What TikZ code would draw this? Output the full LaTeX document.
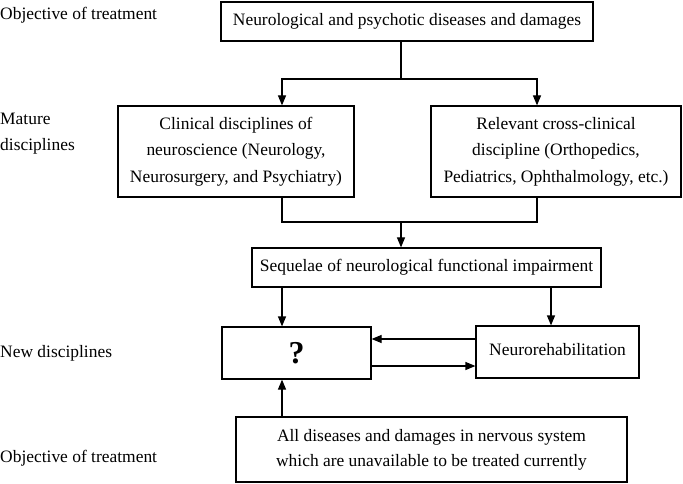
\documentclass[tikz,border=0pt]{standalone}
\usepackage{fontspec}
\setmainfont{Liberation Serif}
\usetikzlibrary{arrows.meta}
\begin{document}
\begin{tikzpicture}[x=1bp,y=-1bp,
  box/.style={draw, line width=1.2bp, inner sep=0pt, align=center, font=\fontsize{17.5}{26.5}\selectfont},
  lab/.style={anchor=west, align=left, inner sep=0pt, font=\fontsize{17.5}{26}\selectfont},
  ln/.style={line width=1.2bp},
  arr/.style={line width=1.2bp, -{Triangle[length=10bp,width=8bp]}}]
\useasboundingbox (0,0) rectangle (683,484);
% side labels
\node[lab] (l1) at (0,15) {Objective of treatment};
\node[lab] (l2) at (0,134) {Mature\\disciplines};
\node[lab] (l3) at (0,353) {New disciplines};
\node[lab] (l4) at (0,458) {Objective of treatment};
% boxes
\node[box, minimum width=372bp, minimum height=39bp] (top) at (407,21.5) {Neurological and psychotic diseases and damages};
\node[box, minimum width=236bp, minimum height=91bp] (left) at (236,151.5) {Clinical disciplines of\\neuroscience (Neurology,\\Neurosurgery, and Psychiatry)};
\node[box, minimum width=250bp, minimum height=91bp] (right) at (556,151.5) {Relevant cross-clinical\\discipline (Orthopedics,\\Pediatrics, Ophthalmology, etc.)};
\node[box, minimum width=349bp, minimum height=39bp] (seq) at (426.5,267.5) {Sequelae of neurological functional impairment};
\node[box, minimum width=149bp, minimum height=52bp, font=\fontsize{32}{32}\selectfont\bfseries] (q) at (296.5,353) {?};
\node[box, minimum width=163bp, minimum height=52bp] (neuro) at (557.5,352) {\raisebox{5bp}{Neurorehabilitation}};
\node[box, minimum width=391bp, minimum height=65bp, font=\fontsize{17.5}{25}\selectfont] (bot) at (431.5,449.5) {All diseases and damages in nervous system\\which are unavailable to be treated currently};
% helper coordinates
\coordinate (xL) at (282,0);
\coordinate (xR) at (537,0);
\coordinate (xN) at (551,0);
\coordinate (j1) at (401,79);
\coordinate (j2) at (401,222);
\coordinate (yA) at (0,339);
\coordinate (yB) at (0,366);
% connectors
\draw[ln] (top.south -| j1) -- (j1);
\draw[arr] (j1) -| (left.north -| xL);
\draw[arr] (j1) -| (right.north -| xR);
\draw[ln] (left.south -| xL) |- (j2);
\draw[ln] (right.south -| xR) |- (j2);
\draw[arr] (j2) -- (seq.north -| j2);
\draw[arr] (seq.south -| xL) -- (q.north -| xL);
\draw[arr] (seq.south -| xN) -- (neuro.north -| xN);
\draw[arr] (neuro.west |- yA) -- (q.east |- yA);
\draw[arr] (q.east |- yB) -- (neuro.west |- yB);
\draw[arr] (bot.north -| xL) -- (q.south -| xL);
\end{tikzpicture}
\end{document}
